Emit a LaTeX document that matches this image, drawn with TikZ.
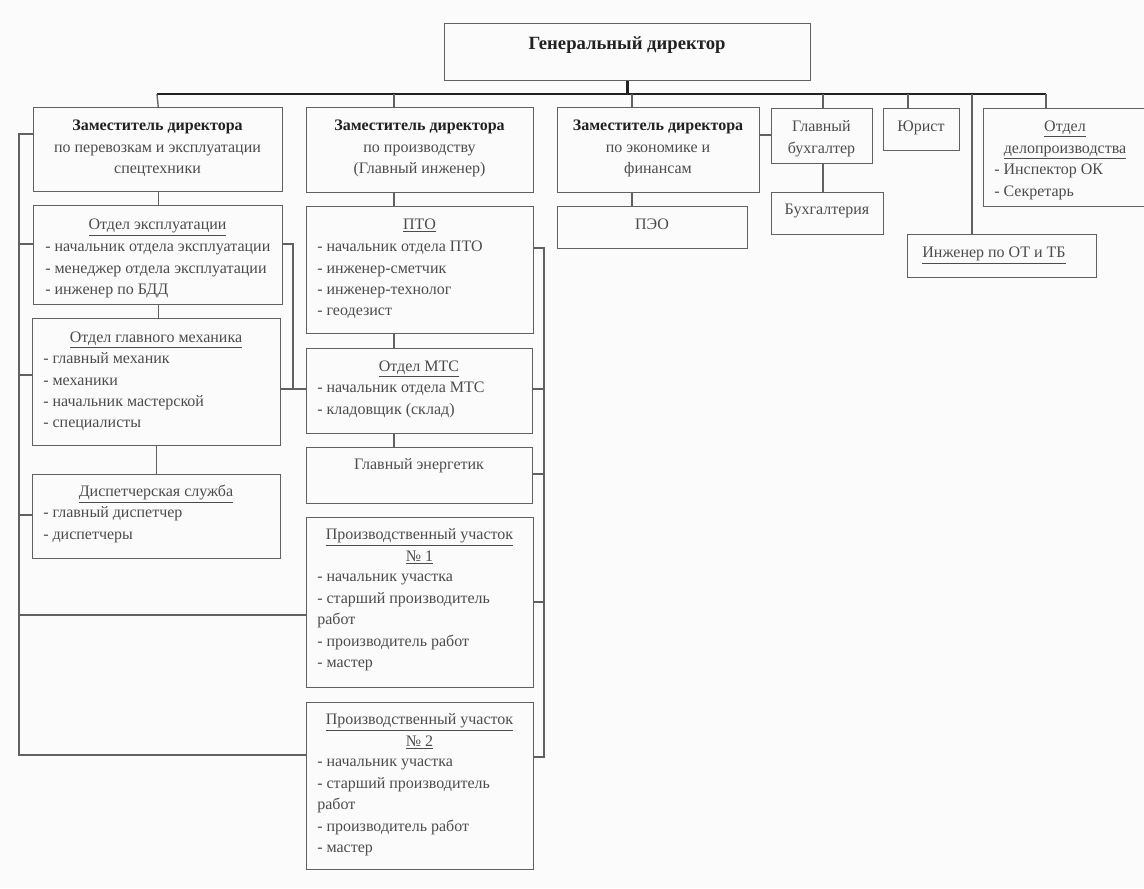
\documentclass[tikz,border=0pt]{standalone}
\usepackage{fontspec}
\setmainfont{Liberation Serif}
\usetikzlibrary{calc}
\definecolor{ink}{gray}{0.3}
\definecolor{inkdark}{gray}{0.13}
\definecolor{frame}{gray}{0.38}
\definecolor{paper}{gray}{0.985}
% box given by its corners in pixel units: name, x1, y1, x2, y2
\newcommand\mkbox[5]{%
  \node[box, minimum width={(#4-#2)*0.75pt}, minimum height={(#5-#3)*0.75pt}] (#1) at (#2,#3) {};}
\newcommand\bhead[1]{\textcolor{inkdark}{\textbf{#1}}}
\begin{document}
\begin{tikzpicture}[x=0.75pt,y=-0.75pt,
  box/.style={draw=frame, line width=1.1pt, rectangle, inner sep=0pt, anchor=north west},
  link/.style={draw=frame, line width=1pt},
  bus/.style={draw=inkdark, line width=2.2pt},
  txt/.style={inner sep=0pt, text=ink, font=\fontsize{12}{16.1}\selectfont},
  head/.style={txt, anchor=base, align=center},
  multi/.style={txt, anchor=north, align=center},
  list/.style={txt, anchor=north west, align=left},
]
\fill[paper] (0,0) rectangle (1144,888);
\useasboundingbox (0,0) rectangle (1144,888);

% ---- boxes ----
\mkbox{gd}{444}{23}{810}{80}
\mkbox{z1}{33}{107}{282}{191}
\mkbox{z2}{306}{107}{533}{192}
\mkbox{z3}{557}{107}{759}{192}
\mkbox{gb}{771}{108}{872}{163}
\mkbox{yur}{883}{108}{959}{150}
\mkbox{odp}{983}{108}{1148}{206}
\mkbox{pteo}{557}{206}{747}{248}
\mkbox{buh}{771}{192}{883}{234}
\mkbox{ot}{907}{234}{1096}{277}
\mkbox{oe}{33}{205}{282}{304}
\mkbox{ogm}{32}{318}{280}{445}
\mkbox{disp}{32}{474}{280}{558}
\mkbox{pto}{306}{206}{533}{333}
\mkbox{mts}{306}{348}{532}{433}
\mkbox{ge}{306}{447}{532}{503}
\mkbox{pu1}{306}{517}{533}{687}
\mkbox{pu2}{306}{702}{533}{869}

% ---- texts ----
\node[head, font=\fontsize{14}{17}\selectfont\bfseries, text=inkdark] (tgd) at (627,50) {Генеральный директор};
\node[multi] (tz1) at (157.5,115.3) {\strut\bhead{Заместитель директора}\\по перевозкам и эксплуатации\\спецтехники};
\node[multi] (tz2) at (419.5,115.3) {\strut\bhead{Заместитель директора}\\по производству\\(Главный инженер)};
\node[multi] (tz3) at (658,115.3) {\strut\bhead{Заместитель директора}\\по экономике и\\финансам};
\node[multi] (tgb) at (821.5,116.3) {\strut Главный\\бухгалтер};
\node[head] (tyur) at (921,132) {Юрист};
\node[multi] (todp) at (1065,116.3) {\strut\underline{Отдел}\\\underline{делопроизводства}};
\node[list] (lodp) at (994,159.3) {\strut- Инспектор ОК\\- Секретарь};
\node[head] (tpteo) at (652,229.5) {ПЭО};
\node[head] (tbuh) at (827,214.5) {Бухгалтерия};
\node[head] (tot) at (994,257.5) {\underline{Инженер по ОТ и ТБ}};

\node[head] (toe) at (157.5,229.5) {\underline{Отдел эксплуатации}};
\node[list] (loe) at (45,236.3) {\strut- начальник отдела эксплуатации\\- менеджер отдела эксплуатации\\- инженер по БДД};
\node[head] (togm) at (156,342.5) {\underline{Отдел главного механика}};
\node[list] (logm) at (43,348.3) {\strut- главный механик\\- механики\\- начальник мастерской\\- специалисты};
\node[head] (tdisp) at (156,496.5) {\underline{Диспетчерская служба}};
\node[list] (ldisp) at (43,502.3) {\strut- главный диспетчер\\- диспетчеры};

\node[head] (tpto) at (419.5,229.5) {\underline{ПТО}};
\node[list] (lpto) at (317,236.3) {\strut- начальник отдела ПТО\\- инженер-сметчик\\- инженер-технолог\\- геодезист};
\node[head] (tmts) at (419,371.5) {\underline{Отдел МТС}};
\node[list] (lmts) at (317,377.3) {\strut- начальник отдела МТС\\- кладовщик (склад)};
\node[head] (tge) at (419,469.5) {Главный энергетик};
\node[multi] (tpu1) at (419.5,524.3) {\strut\underline{Производственный участок}\\\underline{№ 1}};
\node[list] (lpu1) at (317,566.3) {\strut- начальник участка\\- старший производитель\\работ\\- производитель работ\\- мастер};
\node[multi] (tpu2) at (419.5,709.3) {\strut\underline{Производственный участок}\\\underline{№ 2}};
\node[list] (lpu2) at (317,751.3) {\strut- начальник участка\\- старший производитель\\работ\\- производитель работ\\- мастер};

% ---- main bus ----
\coordinate (busL) at (157,94);
\coordinate (busR) at (1046,94);
\coordinate (d2) at (394,94);
\coordinate (d3) at (632,94);
\coordinate (d4) at (823,94);
\coordinate (d5) at (908,94);
\coordinate (d6) at (972,94);
\draw[bus] (gd.south) -- (gd.south |- busL);
\draw[bus] (busL) -- (busR);
\draw[link] (busL) -- (z1.north);
\draw[link] (d2) -- (d2 |- z2.north);
\draw[link] (d3) -- (d3 |- z3.north);
\draw[link] (d4) -- (d4 |- gb.north);
\draw[link] (d5) -- (d5 |- yur.north);
\draw[link] (d6) -- (d6 |- ot.north);
\draw[link] (busR) -- (busR |- odp.north);

% ---- vertical chains ----
\draw[link] (z1.south) -- (oe.north);
\draw[link] (oe.south) -- (oe.south |- ogm.north);
\draw[link] (ogm.south) -- (ogm.south |- disp.north);
\draw[link] (d2 |- z2.south) -- (d2 |- pto.north);
\draw[link] (d2 |- pto.south) -- (d2 |- mts.north);
\draw[link] (d2 |- mts.south) -- (d2 |- ge.north);
\draw[link] (d3 |- z3.south) -- (d3 |- pteo.north);
\draw[link] (d4 |- gb.south) -- (d4 |- buh.north);
\draw[link] (z3.east |- 0,135) -- (gb.west |- 0,135);

% ---- left bracket ----
\coordinate (lbtop) at (19,134);
\coordinate (lbbot) at (19,755);
\draw[link] (z1.west |- lbtop) -- (lbtop) -- (lbbot) -- (pu2.west |- lbbot);
\draw[link] (lbtop |- 0,244) -- (oe.west |- 0,244);
\draw[link] (lbtop |- 0,375) -- (ogm.west |- 0,375);
\draw[link] (lbtop |- 0,515) -- (disp.west |- 0,515);
\draw[link] (lbtop |- 0,615) -- (pu1.west |- 0,615);

% ---- middle bracket ----
\coordinate (mbtop) at (293,244);
\coordinate (mbbot) at (293,389);
\draw[link] (oe.east |- mbtop) -- (mbtop) -- (mbbot);
\draw[link] (ogm.east |- mbbot) -- (mts.west |- mbbot);

% ---- right bracket ----
\coordinate (rbtop) at (544,248);
\coordinate (rbbot) at (544,757);
\draw[link] (pto.east |- rbtop) -- (rbtop) -- (rbbot) -- (pu2.east |- rbbot);
\draw[link] (mts.east |- 0,389) -- (rbtop |- 0,389);
\draw[link] (ge.east |- 0,474) -- (rbtop |- 0,474);
\draw[link] (pu1.east |- 0,602) -- (rbtop |- 0,602);
\end{tikzpicture}
\end{document}
